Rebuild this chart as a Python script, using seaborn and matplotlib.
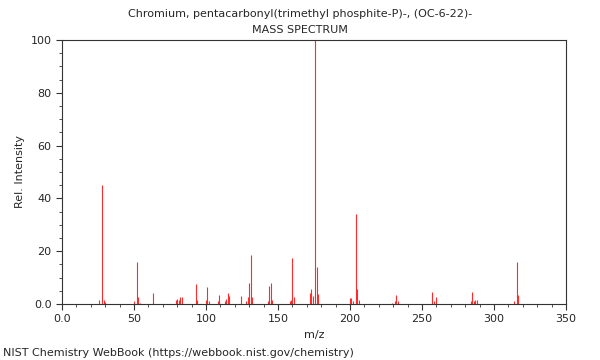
import matplotlib
matplotlib.use("Agg")
import matplotlib.pyplot as plt
import seaborn as sns
import numpy as np
from matplotlib.ticker import MultipleLocator, FixedLocator, FixedFormatter

# --- peak table ---
mz = [26, 28, 29, 30, 50, 52, 53, 54, 63, 79, 80, 81, 82, 83, 93, 94,
      100, 101, 102, 108, 109, 113, 114, 115, 116, 124, 128, 129, 130, 131, 132,
      143, 144, 145, 146, 158, 159, 160, 161, 172, 173, 174, 176, 177, 178,
      200, 201, 202, 204, 205, 206, 229, 231, 232, 233, 257, 258, 260,
      284, 285, 286, 287, 288, 314, 316, 317]
intensity = [1.5, 45, 1.5, 0.8, 1, 16, 2.5, 0.5, 4, 1.5, 2, 1.5, 2.5, 2.5, 7.5, 1.5,
             1.5, 6.5, 1, 1, 3.5, 1, 2, 4, 3, 3, 1, 2.5, 8, 18.5, 2.5,
             1, 7, 8, 1.5, 1, 1.5, 17.5, 2.5, 4.3, 5.7, 3, 100, 14.1, 3.8,
             2.4, 2.4, 1, 34, 5.6, 1.5, 0.5, 1, 3.5, 1, 4.5, 1, 2.5,
             1, 4.5, 1, 1.5, 1.5, 1, 16, 3.5]

x_ticks = [0, 50, 100, 150, 200, 250, 300, 350]
x_labels = ["0.0", "50", "100", "150", "200", "250", "300", "350"]
y_ticks = [0, 20, 40, 60, 80, 100]
y_labels = ["0.0", "20", "40", "60", "80", "100"]

title = "Chromium, pentacarbonyl(trimethyl phosphite-P)-, (OC-6-22)-"

sns.set_style("ticks")
plt.rcParams['font.family'] = ['DejaVu Sans']

fig = plt.figure(figsize=(6, 3.6), dpi=100)
ax = fig.add_axes([62 / 600, 1 - 304 / 360, 504 / 600, 264 / 360])

ax.vlines(mz, 0, intensity, colors="#ff2a2a", linewidth=0.8)

ax.set_xlim(0, 350)
ax.set_ylim(0, 100)
ax.xaxis.set_major_locator(FixedLocator(x_ticks))
ax.xaxis.set_major_formatter(FixedFormatter(x_labels))
ax.yaxis.set_major_locator(FixedLocator(y_ticks))
ax.yaxis.set_major_formatter(FixedFormatter(y_labels))
ax.xaxis.set_minor_locator(MultipleLocator(10))
ax.yaxis.set_minor_locator(MultipleLocator(5))
ax.tick_params(axis="both", which="major", length=4, width=0.8, labelsize=8, color="#333333")
ax.tick_params(axis="both", which="minor", length=2, width=0.6, color="#333333")
for s in ax.spines.values():
    s.set_color("#333333")
    s.set_linewidth(0.8)

ax.set_xlabel("m/z", fontsize=8)
ax.set_ylabel("Rel. Intensity", fontsize=8)

fig.text(0.5, 1 - 14 / 360, title, ha="center", va="center", fontsize=8)
fig.text(0.5, 1 - 30 / 360, "MASS SPECTRUM", ha="center", va="center", fontsize=8)
fig.text(3 / 600, 1 - 353 / 360, "NIST Chemistry WebBook (https://webbook.nist.gov/chemistry)",
         ha="left", va="center", fontsize=8)

fig.savefig("out.png", dpi=100)
